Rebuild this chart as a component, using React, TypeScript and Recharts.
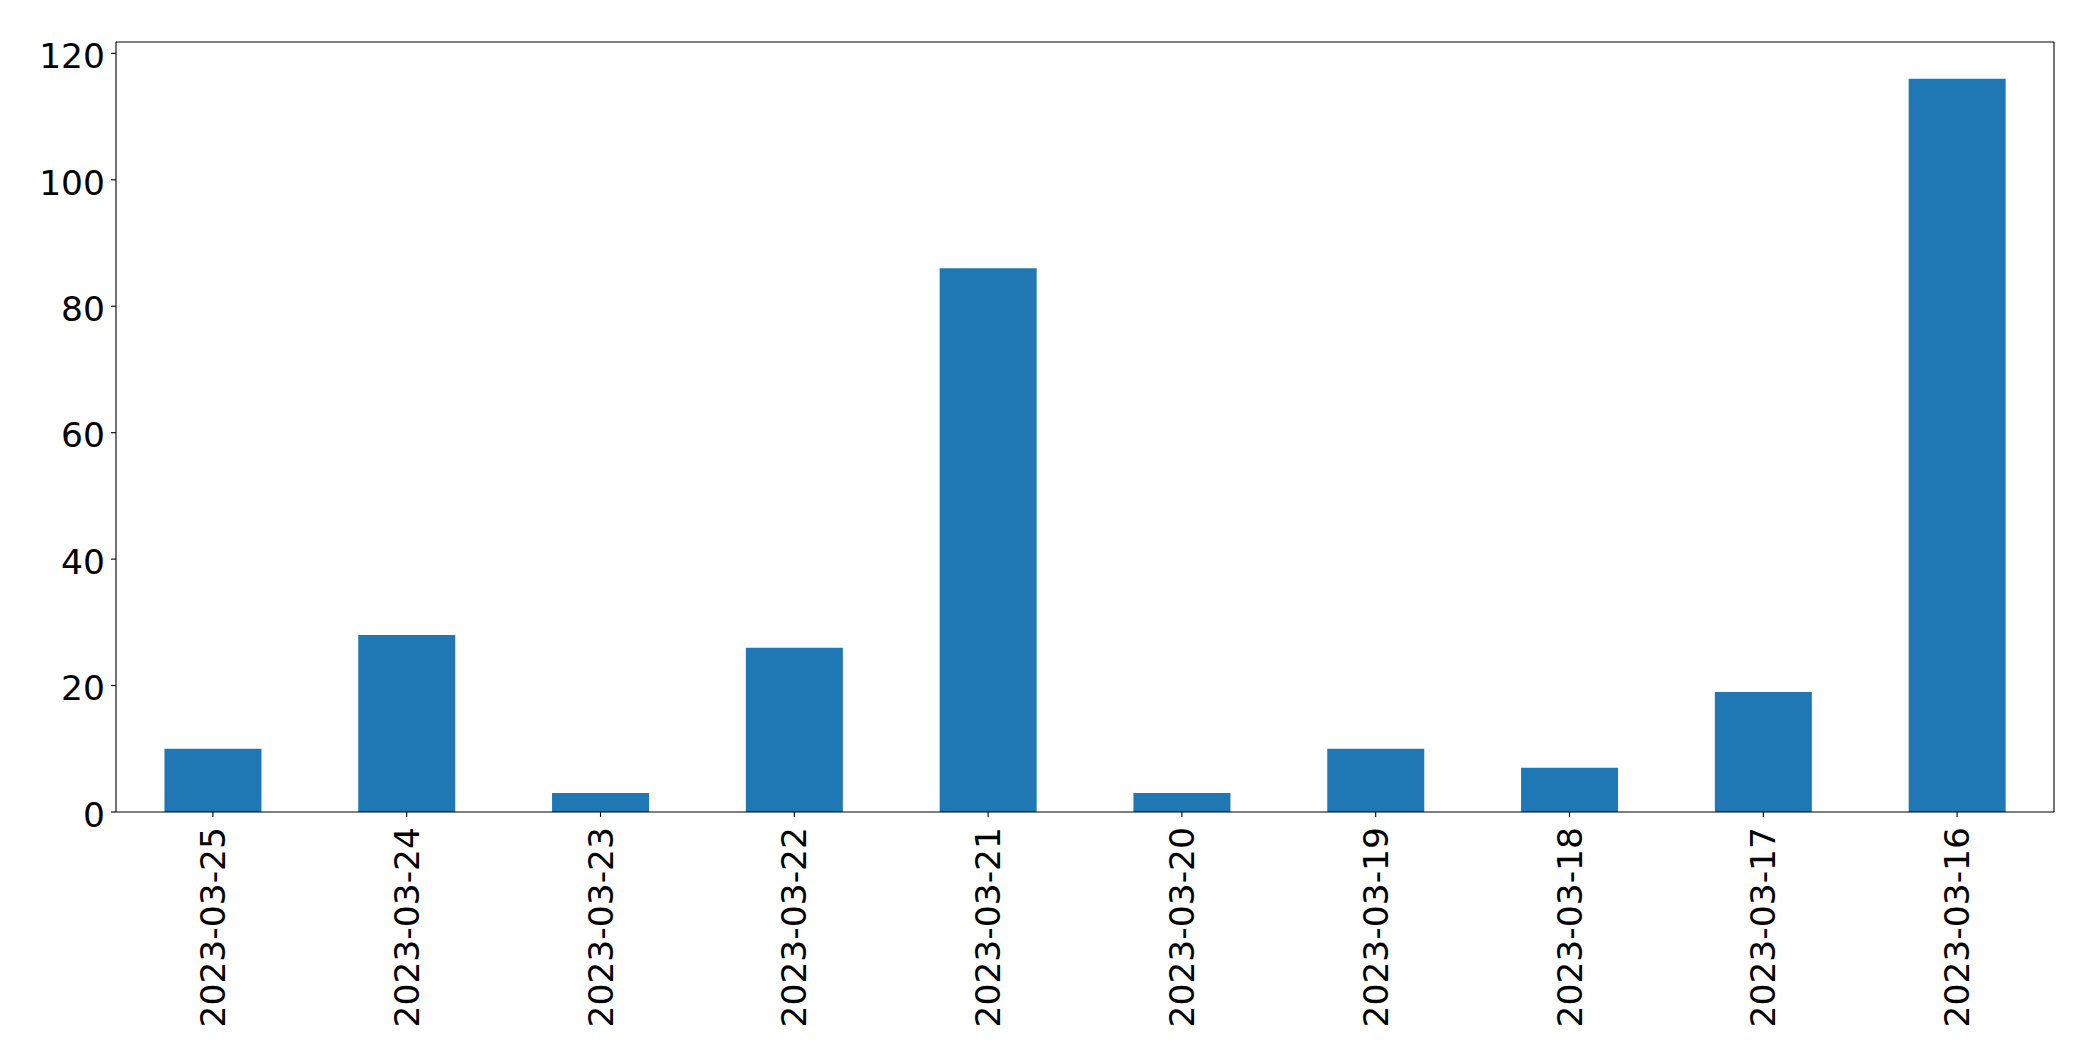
import { BarChart, Bar, XAxis, YAxis, ReferenceLine } from 'recharts';

const dates = [
  '2023-03-25',
  '2023-03-24',
  '2023-03-23',
  '2023-03-22',
  '2023-03-21',
  '2023-03-20',
  '2023-03-19',
  '2023-03-18',
  '2023-03-17',
  '2023-03-16',
];
const counts = [10, 28, 3, 26, 86, 3, 10, 7, 19, 116];
const yTicks = [0, 20, 40, 60, 80, 100, 120];

const data = dates.map((date, i) => ({ date, count: counts[i] }));

const FONT = '"DejaVu Sans", sans-serif';
const FONT_SIZE = 34.5;
const Y_MAX = 121.8; // 5% headroom above the tallest bar, like matplotlib

function DateTick(props: any) {
  const { x, y, payload } = props;
  // label reads bottom-to-top, its end sits just under the tick
  return (
    <text
      x={0}
      y={0}
      transform={`translate(${x},${y + 8}) rotate(-90)`}
      textAnchor="end"
      dominantBaseline="central"
      fontFamily={FONT}
      fontSize={FONT_SIZE}
      fill="#000"
    >
      {payload.value}
    </text>
  );
}

function CountTick(props: any) {
  const { x, y, payload } = props;
  return (
    <text
      x={x}
      y={y}
      dy={14.7}
      textAnchor="end"
      fontFamily={FONT}
      fontSize={FONT_SIZE}
      fill="#000"
    >
      {payload.value}
    </text>
  );
}

export default function App() {
  return (
    <div style={{ position: 'absolute', left: 0, top: 0, background: '#fff' }}>
      <BarChart
        width={2093}
        height={1064}
        data={data}
        margin={{ top: 42, right: 39, bottom: 0, left: 0 }}
        barCategoryGap="25%"
      >
        <XAxis
          dataKey="date"
          height={252}
          interval={0}
          tick={<DateTick />}
          tickSize={5}
          tickLine={{ stroke: '#000', strokeWidth: 1.1 }}
          axisLine={{ stroke: '#000', strokeWidth: 1.1 }}
        />
        <YAxis
          domain={[0, Y_MAX]}
          ticks={yTicks}
          width={116}
          tickSize={5}
          tickMargin={6}
          tick={<CountTick />}
          tickLine={{ stroke: '#000', strokeWidth: 1.1 }}
          axisLine={{ stroke: '#000', strokeWidth: 1.1 }}
          allowDataOverflow
        />
        <Bar dataKey="count" fill="#1f77b4" isAnimationActive={false} />
        {/* top and right spines */}
        <ReferenceLine y={Y_MAX} stroke="#000" strokeWidth={1.1} />
        <ReferenceLine
          x={dates[dates.length - 1]}
          position="end"
          stroke="#000"
          strokeWidth={1.1}
        />
      </BarChart>
    </div>
  );
}
